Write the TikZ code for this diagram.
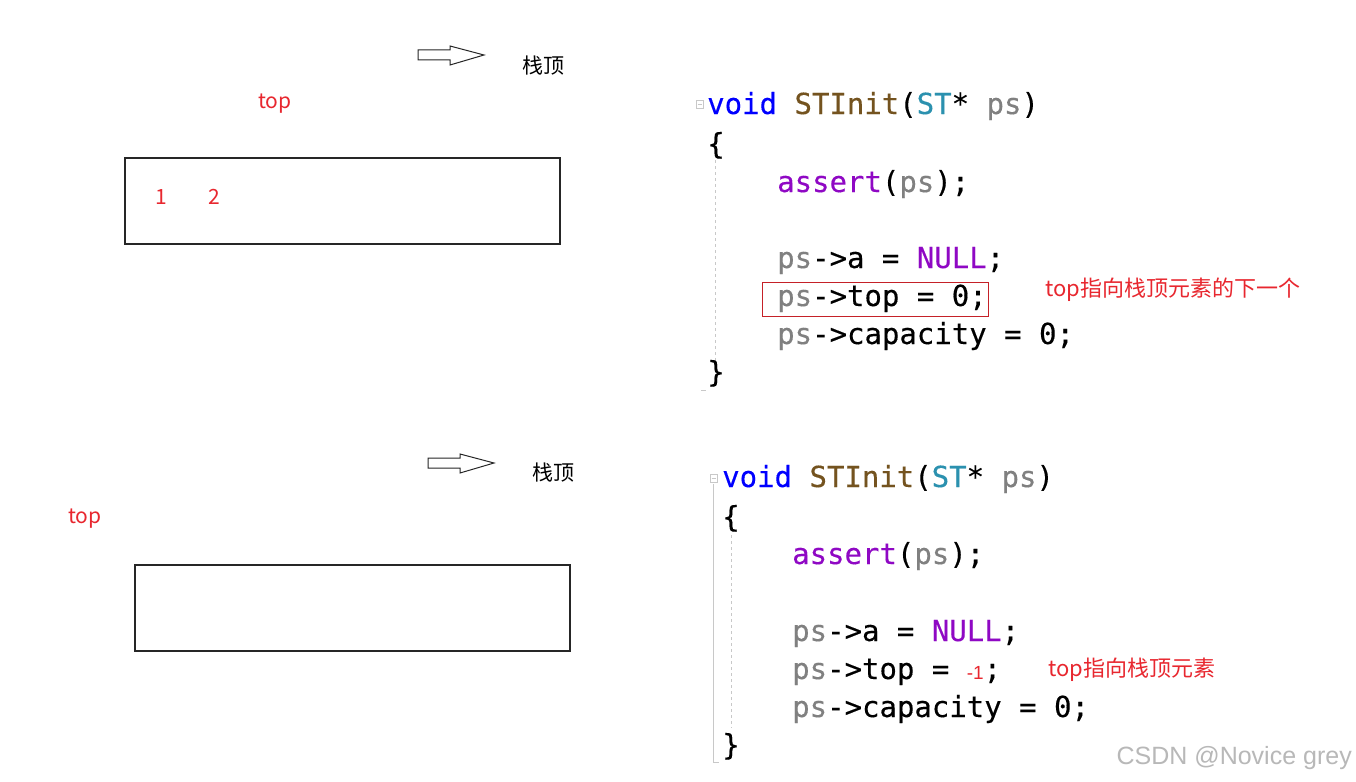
\documentclass[tikz,border=0pt]{standalone}
\usepackage{fontspec}
\setmainfont{Liberation Sans}
\newfontfamily\codefont[FakeBold=0.3]{DejaVu Sans Mono}
\newfontfamily\cjkfont{Noto Sans CJK SC}
\definecolor{kw}{HTML}{0000FF}
\definecolor{fn}{HTML}{74531F}
\definecolor{ty}{HTML}{2B91AF}
\definecolor{pm}{HTML}{808080}
\definecolor{mac}{HTML}{8F08C4}
\definecolor{note}{HTML}{E8272F}
\definecolor{wm}{HTML}{B8B8B8}
\definecolor{gut}{HTML}{C8C8C8}
\begin{document}
\begin{tikzpicture}[x=1pt,y=-1pt,
  code/.style={anchor=base west,inner sep=0pt,font=\codefont\fontsize{29}{29}\selectfont},
  cjk/.style={inner sep=0pt,font=\cjkfont\fontsize{21}{21}\selectfont},
  rednote/.style={cjk,text=note},
  annot/.style={rednote,font=\cjkfont\fontsize{22}{22}\selectfont},
  stackbox/.style={draw=black!85,line width=1.1pt},
  blockarrow/.style={draw=black!85,line width=1pt,fill=white},
  gutline/.style={draw=gut,line width=1pt}]
\useasboundingbox (0,0) rectangle (1356,781);
\fill[white] (0,0) rectangle (1356,781);

% ---------- upper left ----------
\draw[blockarrow] (418,50) -- (450,50) -- (450,46) -- (484,55) -- (450,65) -- (450,60) -- (418,60) -- cycle;
\node[cjk] (sd1) at (543,66) {栈顶};
\node[rednote] (top1) at (275,104) {top};
\draw[stackbox] (125,158) rectangle (560,244);
\node[rednote] (n1) at (161,197) {1};
\node[rednote] (n2) at (214,197) {2};

% ---------- lower left ----------
\draw[blockarrow] (428,458) -- (460,458) -- (460,454) -- (494,463) -- (460,473) -- (460,468) -- (428,468) -- cycle;
\node[cjk] (sd2) at (553,473) {栈顶};
\node[rednote] (top2) at (85,519) {top};
\draw[stackbox] (135,565) rectangle (570,651);

% ---------- upper code ----------
\draw[gut,line width=0.8pt] (696,100) rectangle (703,108);
\draw[gut,line width=0.8pt] (697.5,104) -- (701.5,104);
\draw[gutline,dashed,dash pattern=on 3pt off 3pt] (715,160) -- (715,362);
\draw[gutline] (701,390) -- (706,390);
\node[code] (c1) at (707,114) {\textcolor{kw}{void} \textcolor{fn}{STInit}(\textcolor{ty}{ST}* \textcolor{pm}{ps})};
\node[code] (c2) at (707,154) {\{};
\node[code] (c3) at (777,192) {\textcolor{mac}{assert}(\textcolor{pm}{ps});};
\node[code] (c4) at (777,268) {\textcolor{pm}{ps}->a = \textcolor{mac}{NULL};};
\node[code] (c5) at (777,306) {\textcolor{pm}{ps}->top = 0;};
\node[code] (c6) at (777,344) {\textcolor{pm}{ps}->capacity = 0;};
\node[code] (c7) at (707,382) {\}};
\draw[note!85!black,line width=1pt] (762,282) rectangle (988,316);
\node[annot,anchor=west] (a1) at (1045,290) {top指向栈顶元素的下一个};

% ---------- lower code ----------
\draw[gut,line width=0.8pt] (710,474) rectangle (717,482);
\draw[gut,line width=0.8pt] (711.5,478) -- (715.5,478);
\draw[gutline] (713,484) -- (713,762) -- (719,762);
\draw[gutline,dashed,dash pattern=on 3pt off 3pt] (731,535) -- (731,728);
\node[code] (d1) at (722,487) {\textcolor{kw}{void} \textcolor{fn}{STInit}(\textcolor{ty}{ST}* \textcolor{pm}{ps})};
\node[code] (d2) at (722,527) {\{};
\node[code] (d3) at (792,564) {\textcolor{mac}{assert}(\textcolor{pm}{ps});};
\node[code] (d4) at (792,641) {\textcolor{pm}{ps}->a = \textcolor{mac}{NULL};};
\node[code] (d5) at (792,679) {\textcolor{pm}{ps}->top = {\rmfamily\fontsize{19}{19}\selectfont\textcolor{note}{-1}};};
\node[code] (d6) at (792,717) {\textcolor{pm}{ps}->capacity = 0;};
\node[code] (d7) at (722,755) {\}};
\node[annot,anchor=west] (a2) at (1048,670) {top指向栈顶元素};

% ---------- watermark ----------
\node[anchor=east,inner sep=0pt,text=wm,font=\fontsize{25}{25}\selectfont] (csdn) at (1352,758) {CSDN @Novice grey};
\end{tikzpicture}
\end{document}
